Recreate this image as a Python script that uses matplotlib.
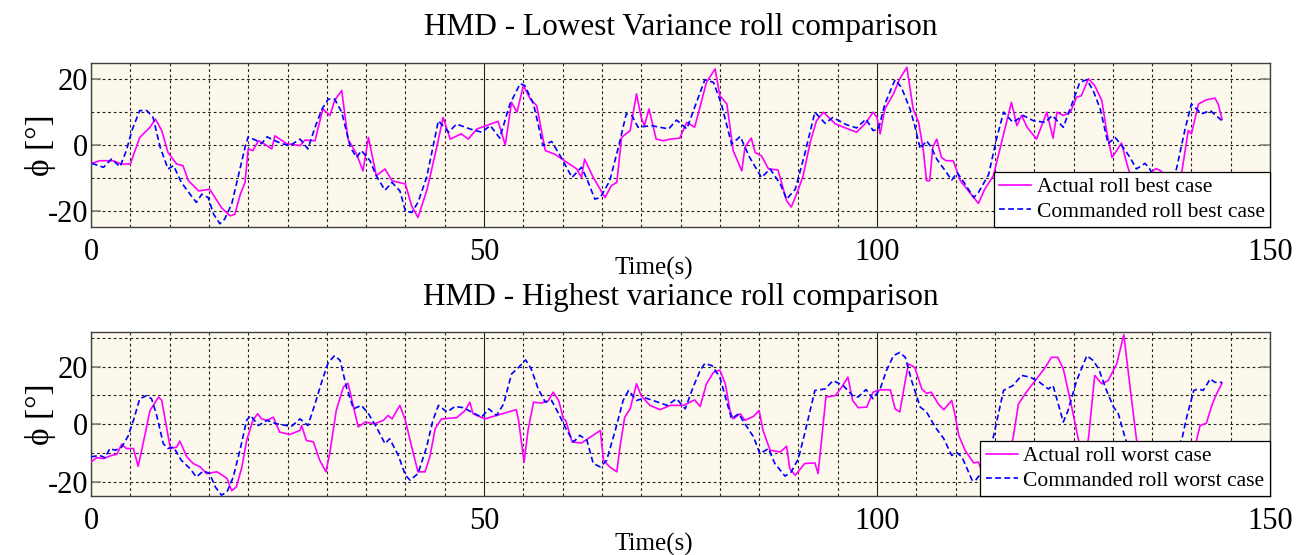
import numpy as np
import matplotlib
matplotlib.use("Agg")
import matplotlib.pyplot as plt
from matplotlib.ticker import MultipleLocator, FixedLocator

plt.rcParams['font.family'] = ['Liberation Serif', 'DejaVu Serif']
plt.rcParams['axes.unicode_minus'] = False

# ---- data (time in s, roll in deg) ----
best_cmd_t = [0.1, 1.6, 2.6, 3.7, 4.5, 5.2, 6.2, 7.1, 7.9, 8.8, 9.8, 10.5, 11.5, 12.6, 13.4, 14.1, 14.9, 15.6,
              16.4, 17.0, 17.9, 18.7, 19.6, 20.0, 21.1, 21.7, 22.4, 23.2, 24.3, 25.3, 26.6, 27.6, 28.5, 29.4,
              30.2, 31.0, 31.9, 33.0, 33.8, 34.4, 35.5, 36.3, 37.4, 38.3, 39.3, 40.0, 40.8, 41.6, 42.7, 43.5,
              44.2, 45.5, 46.5, 48.2, 49.7, 50.8, 52.0, 53.3, 54.6, 55.2, 56.3, 57.5, 58.6, 59.7, 61.2, 62.4,
              63.1, 64.1, 64.8, 66.0, 67.1, 68.1, 68.8, 69.6, 71.3, 73.5, 74.5, 75.8, 76.8, 78.1, 79.2, 80.2,
              81.5, 82.6, 83.8, 85.3, 86.4, 87.7, 88.5, 89.6, 90.8, 92.1, 93.4, 94.4, 96.1, 97.4, 98.6, 99.5,
              100.2, 101.0, 102.3, 103.1, 104.2, 104.8, 105.5, 106.3, 106.9, 107.6, 108.7, 109.5, 110.2, 111.2,
              112.3, 112.9, 114.2, 115.2, 116.1, 117.3, 118.6, 119.9, 121.4, 122.3, 123.7, 124.8, 125.8, 126.7,
              127.5, 128.4, 129.4, 130.3, 131.3, 132.2, 133.0, 134.1, 134.7, 135.5, 136.5, 137.5, 138.1, 139.2,
              140.0, 141.3, 142.4, 143.9]
best_cmd = [-5.6, -6.8, -4.3, -6.6, -1.7, 4.4, 10.5, 10.5, 8.4, -0.7, -7.3, -6.3, -11.4, -15, -17.5, -15, -16, -21.1,
            -24, -22.6, -18, -9.9, -0.7, 2.5, 1.3, 0.4, 2.5, 1.5, 0.4, -0.2, 1.8, -1.2, 5.4, 11,
            14, 14, 10, -0.7, -3.8, -1.7, -4.8, -9.4, -13.8, -11.4, -14, -20.1, -20.6, -17.5, -9.9, -0.7,
            7.4, 3.9, 6.4, 4.9, 3.9, 5.9, 2.1, 12.5, 18.7, 18.1, 12.5, -0.2, 1.1, -3.3, -9.9, -6.8,
            -10.4, -16.5, -16, -10.9, -0.7, 9.5, 9, 5.4, 5.9, 4.9, 7.6, 4.9, 11.5, 19.9, 19.1, 12.5,
            0.3, 2.6, -3.8, -9.9, -7.3, -11.9, -16.5, -13.5, -2.8, 10, 6.6, 8.4, 6.2, 5.2, 7.9, 4.4,
            4.9, 12.5, 19.9, 17.6, 11, 5.9, -1.2, 1.3, -0.7, -4.3, -7.9, -10.7, -8.4, -11.9,
            -16, -14.5, -9, 1.8, 10, 6.9, 9, 7.4, 6.9, 9, 5.4, 12.5, 19.1, 19.9,
            16.6, 11, 0.4, 2.3, -0.7, -3.8, -7.3, -5.6, -7.3, -11, -13, -10, -7.3, 4.9,
            12.5, 9.5, 10.5, 7.4]

best_act_t = [0.1, 1.1, 2.8, 3.9, 5.0, 6.2, 7.5, 8.2, 9.0, 9.8, 10.9, 11.7, 12.4, 13.7, 15.1, 16.6, 17.7, 18.3,
              19.0, 19.6, 20.0, 20.6, 21.3, 22.0, 23.0, 23.4, 24.9, 26.6, 27.2, 28.5, 29.5, 30.4, 31.0, 31.9,
              32.7, 33.8, 34.6, 35.3, 36.3, 37.4, 38.3, 40.0, 40.8, 41.6, 42.7, 43.1, 44.0, 44.8, 45.7, 47.1,
              48.0, 49.1, 51.8, 52.7, 53.5, 54.2, 55.0, 55.9, 56.7, 57.8, 59.0, 61.8, 62.4, 62.8, 63.9, 65.4,
              66.2, 66.9, 67.5, 68.6, 69.4, 70.0, 70.4, 71.0, 71.9, 72.8, 73.7, 74.9, 75.8, 76.8, 77.7, 78.3,
              79.4, 80.0, 80.9, 81.7, 82.8, 83.2, 84.0, 84.5, 85.3, 86.2, 87.4, 88.5, 89.1, 90.0, 90.6, 91.5,
              92.3, 93.2, 94.7, 97.4, 98.5, 99.5, 100.0, 100.4, 101.0, 102.1, 102.9, 103.8, 104.6, 105.3, 105.9,
              106.3, 106.7, 107.1, 107.6, 108.2, 108.8, 109.7, 110.6, 111.8, 112.9, 113.7, 114.8, 115.9, 117.1,
              117.8, 118.4, 119.1, 120.3, 121.6, 122.4, 122.9, 123.7, 124.6, 125.4, 126.0, 126.9, 127.7, 128.6,
              129.2, 129.9, 130.5, 131.1, 131.8, 132.6, 133.5, 134.5, 135.5, 136.2, 137.2, 138.2, 138.8, 139.6,
              140.0, 140.9, 141.9, 143.0, 143.4, 143.9]
best_act = [-5.6, -4.8, -4.8, -5.8, -5.8, 2.3, 5.4, 7.9, 4.4, -2.3, -5.8, -6.3, -10.9, -14, -13.5, -19.1, -21.6, -21.1,
            -15, -11.4, -1.2, -1.7, 1.3, 0.4, -1.2, 2.8, 0.4, -0.2, 1.5, 1.3, 11, 9, 13.6, 16.6,
            1.8, -2.8, -7.9, 2.3, -9.4, -7.3, -10.9, -11.9, -18.6, -22.1, -14, -10, -0.5, 8.4, 1.8, 3.4,
            1.8, 4.9, 7.2, 0, 13, 10, 18.1, 14, 12, -1.7, -2.8, -7.3, -9.9, -4.3, -9.9, -16,
            -12.4, -11.4, 2.3, 4.4, 15.6, 8.4, 5.9, 11, 1.8, 1.3, 1.8, 2.1, 6.9, 5.4, 13.6, 19.1,
            23.2, 15.1, 12.5, -1.7, -7.9, -0.7, 2.1, -2.3, -3.3, -7.3, -7.6, -17, -18.9, -13.5, -9.4, 0.8,
            7.4, 10, 6.4, 3.9, 6.5, 10, 8.4, 3.4, 11, 15.6, 20.2, 23.7, 11, 6.9, -1.7,
            -10.9, -10.9, -0.7, 1.8, -3.8, -4.8, -4.8, -10.9, -14.5, -17.8, -13.5, -9.4, 1.3, 13,
            5.9, 9, 5.4, 1.8, 10, 2.1, 10, 9, 10, 14.6, 15, 20.2, 18.1, 13.6,
            4.4, -3.8, -1.7, 0.6, -5.8, -12, -14, -9, -7.2, -8, -15, -12, -7.9, 4.4,
            3.4, 12.5, 13.8, 14.3, 12.5, 7.9]

worst_cmd_t = [0.0, 1.1, 1.8, 2.4, 3.1, 3.9, 4.7, 5.4, 6.2, 7.1, 7.7, 8.3, 9.2, 9.8, 10.5, 11.5, 12.6, 13.4,
               14.3, 15.1, 15.8, 16.6, 17.3, 18.1, 19.0, 19.8, 20.3, 21.3, 22.4, 23.6, 24.9, 25.5, 26.6, 27.6,
               28.5, 29.4, 30.2, 31.0, 31.7, 32.5, 33.4, 34.4, 35.3, 36.3, 37.4, 38.0, 39.1, 40.0, 40.6, 41.6,
               42.7, 43.5, 44.2, 45.3, 46.3, 47.4, 48.4, 49.7, 50.6, 51.6, 52.5, 53.5, 54.4, 55.3, 56.0, 56.9,
               57.8, 58.6, 59.5, 60.3, 61.4, 62.2, 63.1, 63.9, 64.8, 65.6, 66.7, 67.7, 68.4, 69.4, 70.5, 71.5,
               73.3, 74.5, 75.6, 76.6, 77.5, 78.1, 79.0, 80.0, 80.9, 81.5, 82.4, 83.2, 84.3, 85.1, 86.2, 87.0,
               88.3, 89.1, 90.0, 90.8, 92.1, 93.4, 94.4, 95.7, 96.9, 97.6, 98.6, 99.5, 100.4, 101.2, 102.1,
               102.9, 103.6, 104.4, 105.5, 106.3, 107.4, 108.5, 109.5, 110.2, 110.8, 112.1, 112.5, 113.5, 114.2,
               114.8, 116.1, 117.3, 118.4, 119.5, 120.7, 121.8, 122.4, 123.7, 124.3, 125.4, 126.7, 127.5, 128.2,
               129.2, 130.1, 130.7, 131.6, 132.5, 134.0, 135.5, 137.0, 138.8, 139.4, 140.3, 140.9, 141.5, 142.4,
               143.0, 143.9]
worst_cmd = [-11.4, -10.9, -11.7, -8.5, -9.1, -8.0, -4.3, 1.3, 8.8, 9.9, 8.8, 3.6, -6.8, -8.5, -8.0, -12.6, -15.5, -18.4,
             -16.3, -17.2, -21.8, -24.7, -23.6, -18.4, -8.5, 1.3, 3.0, -0.5, 1.3, 0.1, -0.5, -0.8, 1.8, -0.5,
             7.0, 15.1, 21.5, 23.8, 22.1, 12.8, 5.3, 6.5, 3.6, -1.0, -6.8, -5.1, -10.9, -17.8, -19.5, -17.2,
             -8.0, 1.3, 6.5, 4.2, 6.1, 5.7, 4.2, 2.4, 5.3, 3.0, 7.0, 17.4, 19.7, 22.3, 19.2, 12.2,
             7.6, 8.2, 3.6, -1.0, -6.2, -3.9, -5.7, -13.7, -14.9, -12.6, -2.2, 8.2, 11.7, 8.2, 9.1, 8.2,
             6.5, 8.8, 5.3, 12.8, 18.6, 21.1, 20.3, 16.3, 7.6, 1.8, 3.6, 0.1, -4.5, -10.3, -8.5, -13.7,
             -18.1, -16.6, -12.0, -3.3, 11.7, 12.2, 15.1, 13.4, 9.9, 9.4, 12.0, 8.8, 12.2, 18.6, 23.8,
             24.9, 23.2, 15.1, 5.9, 4.2, -1.0, -5.1, -10.9, -10.0, -11.4, -19.5, -19.7, -16.1, -10,
             -4.5, 11.7, 13.4, 16.9, 16.3, 14.5, 12.2, 13.4, 0.7, 4.7, 15.1, 23.8, 22.1, 19.2,
             11.7, 5.9, 3.6, -5.1, -12, -15, -10, -14, -5.1, 2.4, 11.7, 12.2, 11.7, 15.7,
             14.5, 14.5]

worst_act_t = [0.0, 0.7, 1.6, 2.6, 3.3, 3.9, 4.5, 5.4, 6.0, 6.9, 7.5, 8.6, 9.0, 10.1, 10.9, 11.3, 12.2, 13.0,
               13.9, 14.7, 16.0, 16.4, 17.3, 17.9, 18.5, 19.2, 19.8, 20.6, 21.2, 21.7, 22.4, 23.2, 24.0, 25.3,
               26.6, 26.8, 27.4, 28.3, 29.1, 29.9, 30.4, 31.2, 32.1, 32.7, 33.4, 34.0, 34.9, 36.1, 37.2, 37.8,
               38.3, 39.3, 40.0, 40.6, 41.6, 42.5, 43.1, 43.8, 44.6, 46.5, 47.6, 48.2, 48.6, 50.1, 51.6, 54.1,
               54.4, 55.1, 55.6, 56.3, 57.3, 58.2, 58.8, 59.5, 60.1, 60.4, 61.2, 62.4, 64.8, 65.2, 66.0, 66.9,
               67.3, 67.9, 68.6, 69.4, 70.0, 71.1, 72.4, 73.7, 75.4, 76.8, 77.5, 78.3, 79.2, 80.0, 80.7, 81.3,
               81.7, 82.6, 83.2, 84.3, 85.0, 85.5, 86.4, 87.7, 88.5, 88.9, 89.6, 90.8, 92.1, 92.5, 92.9, 93.5,
               94.7, 95.5, 96.3, 96.9, 97.6, 98.7, 99.5, 100.4, 101.7, 102.3, 102.9, 103.6, 104.0, 104.8, 105.7,
               106.3, 106.9, 107.8, 108.5, 109.5, 109.9, 110.4, 111.2, 112.3, 112.9, 113.3, 114.5, 116.0, 117.3,
               118.0, 119.0, 120.3, 121.4, 122.2, 123.0, 123.7, 124.6, 125.6, 126.2, 126.9, 127.7, 128.6, 129.4,
               130.5, 131.4, 132.2, 133.0, 134.0, 135.5, 137.0, 138.5, 139.5, 140.7, 141.1, 141.9, 142.6, 143.2,
               143.9]
worst_act = [-13.2, -11.7, -12.0, -10.9, -10.5, -7.0, -8.5, -8.5, -14.7, -3.3, 4.7, 9.4, 8.2, -8.5, -8.0, -5.9, -11.4, -13.7,
             -14.9, -17.2, -16.6, -17.2, -18.9, -23.2, -21.8, -14.9, -5.7, 1.3, 3.6, 1.8, 1.3, 2.4, -2.8, -3.6,
             -2.2, -0.5, -5.7, -6.2, -12.6, -16.6, -9.7, 4.7, 12.8, 14.2, 5.9, -1.0, 0.7, 0.1, 1.3, 3.0,
             1.8, 6.5, 1.3, -5.7, -16.6, -16.6, -11.5, -1.5, 1.8, 2.2, 4.7, 7.6, 3.6, 1.8, 3.0, 5.0,
             1.3, -13.2, -2.2, 7.6, 7.3, 8.2, 11.1, 8.2, 1.8, 1.3, -6.2, -6.6, -2.2, -12.6, -14.9, -16.6,
             -8.0, 2.4, 5.3, 14.0, 9.9, 6.5, 5.0, 6.5, 6.5, 8.4, 6.1, 14.0, 18.0, 18.8, 14.0, 4.7,
             1.8, 3.6, 1.3, 2.7, 4.7, -2.2, -9.1, -9.7, -7.7, -15.5, -17.8, -13.7, -13.5, -17.2, -6.8, 9.4,
             9.9, 12.8, 16.3, 8.2, 5.7, 5.9, 11.1, 11.9, 11.9, 5.3, 4.2, 15.1, 20.9, 19.7, 12.2,
             10.7, 11.1, 7.0, 5.0, 8.2, 3.6, -3.9, -9.1, -13.5, -13.2, -16.1, -19, -15, -5.1,
             7.0, 11.1, 15.7, 19.7, 23.2, 23.2, 19.2, 8.2, -5.1, -12, -5.1, 16.9, 14.0, 15.1,
             20.9, 31.1, 12.8, -5.1, -18, -22, -15, -20, -24.5, -5.1, -0.5, 0.3, 6.5, 10.5,
             14.2]

titles = ["HMD - Lowest Variance roll comparison", "HMD - Highest variance roll comparison"]
act_labels = ["Actual roll best case", "Actual roll worst case"]
cmd_labels = ["Commanded roll best case", "Commanded roll worst case"]
ylims = [(-25, 25), (-25, 32)]

W, H = 1307, 555
fig = plt.figure(figsize=(W / 100, H / 100), dpi=100)

# axes boxes in pixels (left, top, right, bottom)
boxes = [(91, 63, 1270, 227), (91, 332, 1270, 496)]
title_y = [28, 297]
xlabel_y = [268, 544]

series = [(best_act_t, best_act, best_cmd_t, best_cmd),
          (worst_act_t, worst_act, worst_cmd_t, worst_cmd)]

for i, (l, t, r, b) in enumerate(boxes):
    ax = fig.add_axes([l / W, 1 - b / H, (r - l) / W, (b - t) / H])
    ax.set_facecolor('#fdf8ec')
    at, av, ct, cv = series[i]
    ax.plot(at, av, color='#ff00ff', lw=1.2, label=act_labels[i], zorder=3)
    ax.plot(ct, cv, color='#0000ff', lw=1.2, ls=(0, (3.5, 2)), label=cmd_labels[i], zorder=3)

    ax.set_xlim(0, 150)
    ax.set_ylim(*ylims[i])
    ax.xaxis.set_major_locator(FixedLocator([0, 50, 100, 150]))
    ax.xaxis.set_minor_locator(MultipleLocator(5))
    ax.yaxis.set_major_locator(FixedLocator([-20, 0, 20]))
    ax.yaxis.set_minor_locator(MultipleLocator(10))

    dot = dict(color='#222222', lw=0.8, ls=(0, (2.5, 2.5)))
    ax.grid(which='minor', axis='both', **dot)
    ax.grid(which='major', axis='y', **dot)
    ax.grid(which='major', axis='x', color='#222222', lw=0.8, ls='-')
    ax.set_axisbelow(True)

    ax.tick_params(axis='both', which='minor', length=0)
    ax.tick_params(axis='y', which='major', direction='in', length=7, width=1.2,
                   color='#808080', left=True, right=True, labelsize=22, pad=2)
    ax.tick_params(axis='x', which='major', direction='in', length=0,
                   labelsize=22, pad=8)
    for s in ax.spines.values():
        s.set_color('#404040')
        s.set_linewidth(1.0)

    leg = ax.legend(loc='lower right', bbox_to_anchor=(1.0, 0.0), borderaxespad=0,
                    fontsize=15.5, frameon=True, fancybox=False, framealpha=1,
                    edgecolor='#000000', handlelength=1.5, handletextpad=0.25,
                    labelspacing=0.2, borderpad=0.25)
    leg.get_frame().set_linewidth(0.9)
    leg.set_zorder(5)

    ax.set_ylabel('ϕ [°]', fontsize=24, labelpad=6)
    ax.yaxis.set_label_coords(-35 / (r - l), 0.5)

    fig.text((l + r) / 2 / W, 1 - title_y[i] / H, titles[i], ha='center', va='center', fontsize=22.5)
    fig.text(0.5, 1 - xlabel_y[i] / H, 'Time(s)', ha='center', va='center', fontsize=18)

fig.savefig('out.png', dpi=100, facecolor='white')
